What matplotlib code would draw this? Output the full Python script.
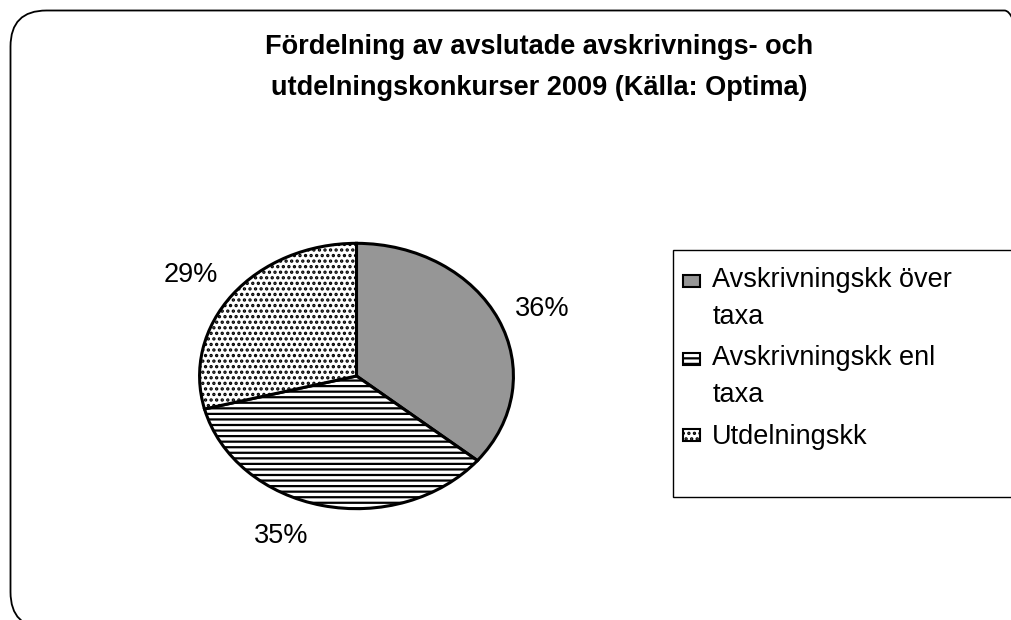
import numpy as np
import matplotlib
matplotlib.use("Agg")
import matplotlib.pyplot as plt
from matplotlib.patches import FancyBboxPatch, Patch, Rectangle
from matplotlib.transforms import IdentityTransform
from matplotlib.legend_handler import HandlerPatch

plt.rcParams['font.family'] = ['Liberation Sans', 'DejaVu Sans']
plt.rcParams['hatch.linewidth'] = 1.6

title_lines = ["Fördelning av avslutade avskrivnings- och",
               "utdelningskonkurser 2009 (Källa: Optima)"]
categories = ["Avskrivningskk över\ntaxa", "Avskrivningskk enl\ntaxa", "Utdelningskk"]
values = [36, 35, 29]
face_colors = ["#969696", "white", "white"]
hatches = [None, "---", "..."]

FS = 19.5
LINESPACING = 1.55

fig = plt.figure(figsize=(10.11, 6.2), dpi=100)

# rounded chart-area border (pixel coords)
border = FancyBboxPatch((10.5, -8), 1030, 617.5,
                        boxstyle="round,pad=0,rounding_size=36",
                        transform=IdentityTransform(), facecolor="none",
                        edgecolor="black", linewidth=1.3)
fig.add_artist(border)

fig.text(0.533, 0.924, title_lines[0], ha="center", va="center",
         fontsize=FS, fontweight="bold")
fig.text(0.533, 0.8585, title_lines[1], ha="center", va="center",
         fontsize=FS, fontweight="bold")

ax = fig.add_axes([198 / 1011, 110 / 620, 317 / 1011, 268 / 620])
wedges, texts, autotexts = ax.pie(values, startangle=90, counterclock=False,
                                  colors=face_colors, autopct="%1.0f%%",
                                  pctdistance=1.3,
                                  wedgeprops=dict(edgecolor="black", linewidth=2.2),
                                  textprops=dict(fontsize=FS))
for w, h in zip(wedges, hatches):
    if h:
        w.set_hatch(h)

# label placement tweaks (layout only)
label_dist = [1.29, 1.30, 1.30]
label_angle_shift = [-2, -9, 2]
for w, t, d, s in zip(wedges, autotexts, label_dist, label_angle_shift):
    ang = np.deg2rad((w.theta1 + w.theta2) / 2 + s)
    t.set_position((d * np.cos(ang), d * np.sin(ang)))

ax.set_aspect("auto")
ax.set_xlim(-1.01, 1.01)
ax.set_ylim(-1.01, 1.01)
ax.axis("off")

# legend frame (extends past right edge like the original)
fig.add_artist(Rectangle((672.5, 123.5), 400, 247, transform=IdentityTransform(),
                         facecolor="white", edgecolor="black", linewidth=1.0,
                         zorder=1))


def make_handler(extra_lines):
    def patch_func(legend, orig_handle, xdescent, ydescent, width, height, fontsize):
        shift = extra_lines * 0.5 * LINESPACING * 0.9 * fontsize
        return Rectangle((-xdescent, 2.0 + shift), width, 0.44 * fontsize)
    return HandlerPatch(patch_func=patch_func)


handles = [Patch(facecolor=c, edgecolor="black", hatch=h, linewidth=1.5)
           for c, h in zip(face_colors, hatches)]
handler_map = {h: make_handler(lbl.count("\n")) for h, lbl in zip(handles, categories)}
leg = fig.legend(handles, categories, loc="upper left",
                 bbox_to_anchor=(683 / 1011, 1 - 267 / 620),
                 fontsize=FS, frameon=False, handler_map=handler_map,
                 handlelength=0.63, handleheight=0.7, handletextpad=0.45,
                 labelspacing=0.57, borderpad=0, borderaxespad=0)
for t in leg.get_texts():
    t.set_linespacing(LINESPACING)
leg.set_zorder(2)

fig.savefig("out.png", dpi=100)
